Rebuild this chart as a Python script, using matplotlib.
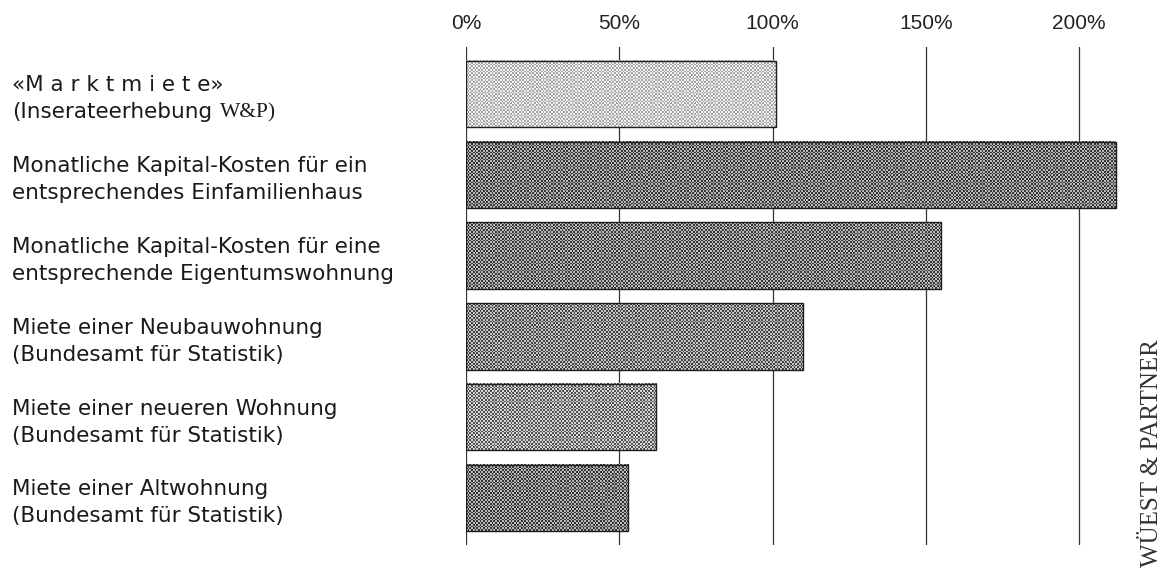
import matplotlib.pyplot as plt
from matplotlib.colors import ListedColormap
from matplotlib.transforms import blended_transform_factory
import numpy as np

# Categories (top to bottom), two lines each, and their cost relative to the market rent (%)
label_top = [
    "«M a r k t m i e t e»",
    "Monatliche Kapital-Kosten für ein",
    "Monatliche Kapital-Kosten für eine",
    "Miete einer Neubauwohnung",
    "Miete einer neueren Wohnung",
    "Miete einer Altwohnung",
]
label_bottom = [
    "(Inserateerhebung",
    "entsprechendes Einfamilienhaus",
    "entsprechende Eigentumswohnung",
    "(Bundesamt für Statistik)",
    "(Bundesamt für Statistik)",
    "(Bundesamt für Statistik)",
]
values = [101, 212, 155, 110, 62, 53]
ticks = [0, 50, 100, 150, 200]
tick_labels = ["0%", "50%", "100%", "150%", "200%"]

# checkerboard stipple of each bar: dark cell tone, light cell tone
dark = ["#a6a6a6", "#363636", "#383838", "#424242", "#525252", "#363636"]
light = ["#f2f2f2", "#b8b8b8", "#bcbcbc", "#c6c6c6", "#d4d4d4", "#b8b8b8"]

plt.rcParams['font.family'] = ['DejaVu Sans']

fig = plt.figure(figsize=(11.62, 5.68), dpi=100)
ax = fig.add_axes([466 / 1162, 23 / 568, 659 / 1162, 498 / 568])

xmax = 215
ymin, ymax = len(values) - 1 + 0.58, -0.58
bar_h = 0.82
px_per_x = 659 / xmax
px_per_y = 498 / (ymin - ymax)
cell = 1.7  # stipple cell size in pixels

y = np.arange(len(values))
bars = ax.barh(y, values, height=bar_h, color="none", edgecolor="#1e1e1e",
               linewidth=1.0, zorder=4)
for i, p in enumerate(bars):
    nx = max(int(values[i] * px_per_x / cell), 2)
    ny = max(int(bar_h * px_per_y / cell), 2)
    board = np.add.outer(np.arange(ny), np.arange(nx)) % 2
    ax.imshow(board, cmap=ListedColormap([dark[i], light[i]]),
              extent=(0, values[i], y[i] + bar_h / 2, y[i] - bar_h / 2),
              interpolation="nearest", aspect="auto", zorder=3)

for t in ticks:
    ax.axvline(t, color="#333333", linewidth=0.9, zorder=1)

ax.set_xlim(0, xmax)
ax.set_ylim(ymin, ymax)
ax.xaxis.tick_top()
ax.set_xticks(ticks)
ax.set_xticklabels(tick_labels, fontsize=15, color="#222222", family=["Liberation Sans", "DejaVu Sans"])
ax.tick_params(axis="x", length=0, pad=10)
ax.set_yticks([])
for s in ax.spines.values():
    s.set_visible(False)

# category labels, left aligned at the figure edge, one text per line
trans = blended_transform_factory(fig.transFigure, ax.transData)
second_lines = []
for i in range(len(values)):
    ax.annotate(label_top[i], xy=(12 / 1162, y[i]), xycoords=trans,
                xytext=(0, 6.3), textcoords="offset points",
                ha="left", va="center", fontsize=15.5, color="#1a1a1a")
    t = ax.annotate(label_bottom[i], xy=(12 / 1162, y[i]), xycoords=trans,
                    xytext=(0, -13.2), textcoords="offset points",
                    ha="left", va="center", fontsize=15.5, color="#1a1a1a")
    second_lines.append(t)

# "W&P)" is set in a serif face after the first label's second line
ax.annotate("W&P)", xy=(1, 0), xycoords=second_lines[0], xytext=(6, 0),
            textcoords="offset points", ha="left", va="bottom", fontsize=15.5,
            family=["Liberation Serif", "DejaVu Serif"], color="#1a1a1a")

fig.text(1152 / 1162, 1 / 568, "WÜEST & PARTNER", rotation=90, ha="center", va="bottom",
         fontsize=18, family=["Liberation Serif", "DejaVu Serif"], color="#333333")

fig.savefig("out.png", dpi=100)
